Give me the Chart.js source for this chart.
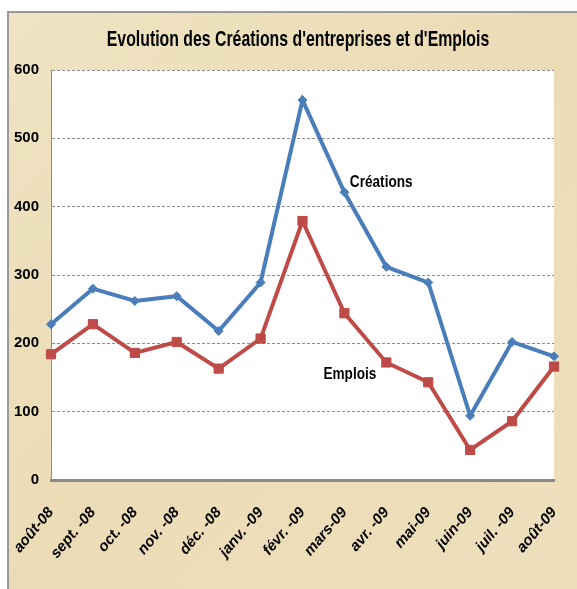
<!DOCTYPE html>
<html>
<head>
<meta charset="utf-8">
<script src="https://cdn.jsdelivr.net/npm/chart.js@4.4.1/dist/chart.umd.min.js"></script>
<style>
  html, body { margin: 0; padding: 0; background: #fff; }
</style>
</head>
<body>
<canvas id="myChart" width="577" height="589"></canvas>
<script>
// donnees
const mois = ['août-08', 'sept. -08', 'oct. -08', 'nov. -08', 'déc. -08', 'janv. -09', 'févr. -09',
  'mars-09', 'avr. -09', 'mai-09', 'juin-09', 'juil. -09', 'août-09']
const creations = [228, 280, 262, 269, 218, 289, 556, 421, 312, 289, 94, 202, 181]
const emplois = [184, 228, 186, 202, 163, 207, 379, 244, 172, 143, 44, 86, 166]
const yTicks = [0, 100, 200, 300, 400, 500, 600]
const titre = "Evolution des Créations d'entreprises et d'Emplois"

// etiquettes dans le graphique (index de categorie, valeur)
const noteCreations = { text: 'Créations', index: 7.13, value: 435 }
const noteEmplois = { text: 'Emplois', index: 6.5, value: 154 }

const police = "'Liberation Sans', Arial, sans-serif"
const bleu = '#4a7ebb'
const rouge = '#be4b48'

// texte un peu resserre, comme le Calibri du modele
function texteEtroit(ctx, txt, x, y, align, k) {
  ctx.save()
  ctx.translate(x, y)
  ctx.scale(k, 1)
  ctx.textAlign = align
  ctx.fillText(txt, 0, 0)
  ctx.restore()
}

const fond = {
  id: 'fond',
  beforeDraw(chart) {
    const ctx = chart.ctx
    const a = chart.chartArea
    ctx.save()
    ctx.fillStyle = '#ffffff'
    ctx.fillRect(0, 0, chart.width, chart.height)
    const g = ctx.createLinearGradient(0, 12, chart.width, chart.height)
    g.addColorStop(0, '#efe3c2')
    g.addColorStop(0.5, '#ecdcb6')
    g.addColorStop(1, '#eee0bd')
    ctx.fillStyle = g
    ctx.fillRect(8, 12, chart.width - 8, chart.height - 12)
    ctx.strokeStyle = '#999999'
    ctx.lineWidth = 2
    ctx.beginPath()
    ctx.moveTo(8, chart.height)
    ctx.lineTo(8, 12)
    ctx.lineTo(chart.width, 12)
    ctx.stroke()
    ctx.fillStyle = '#ffffff'
    ctx.fillRect(a.left, a.top, a.right - a.left, a.bottom - a.top)

    ctx.fillStyle = '#000'
    ctx.font = 'bold 22px ' + police
    ctx.textBaseline = 'middle'
    texteEtroit(ctx, titre, 298, 40, 'center', 0.72)
    ctx.restore()
  },
  afterDatasetsDraw(chart) {
    const ctx = chart.ctx
    const x = chart.scales.x
    const y = chart.scales.y
    ctx.save()
    ctx.fillStyle = '#000'
    ctx.font = 'bold 17px ' + police
    ctx.textBaseline = 'middle'
    for (const n of [noteCreations, noteEmplois]) {
      texteEtroit(ctx, n.text, x.getPixelForValue(n.index), y.getPixelForValue(n.value), 'left', 0.8)
    }
    ctx.restore()
  }
}

const ctx = document.getElementById('myChart')
const myChart = new Chart(ctx, {
  type: 'line',
  data: {
    labels: mois,
    datasets: [{
      label: 'Créations',
      data: creations,
      borderColor: bleu,
      backgroundColor: bleu,
      borderWidth: 4,
      pointStyle: 'rectRot',
      pointRadius: 4.5,
      pointBorderWidth: 1,
      tension: 0,
      clip: false
    }, {
      label: 'Emplois',
      data: emplois,
      borderColor: rouge,
      backgroundColor: rouge,
      borderWidth: 4,
      pointStyle: 'rect',
      pointRadius: 6.5,
      pointBorderWidth: 1,
      tension: 0,
      clip: false
    }]
  },
  options: {
    responsive: false,
    animation: false,
    layout: { padding: { top: 70, right: 23, left: 0, bottom: 0 } },
    plugins: {
      legend: { display: false },
      tooltip: { enabled: false }
    },
    scales: {
      x: {
        offset: false,
        afterFit: s => {
          s.height = 109
          s.paddingLeft = 0
          s.paddingRight = 0
        },
        grid: { display: false, drawTicks: false },
        border: { display: true, color: '#8a8a8a', width: 3 },
        ticks: {
          autoSkip: false,
          minRotation: 50,
          maxRotation: 50,
          padding: 24,
          color: '#000',
          font: { family: police, size: 15, weight: 'bold', style: 'italic' }
        }
      },
      y: {
        min: 0,
        max: 600,
        afterFit: s => { s.width = 51 },
        afterBuildTicks: s => { s.ticks = yTicks.map(v => ({ value: v })) },
        grid: { color: '#8c8c8c', lineWidth: 1, drawTicks: false },
        border: { display: true, color: '#8c8c8c', width: 1, dash: [3, 2] },
        ticks: {
          padding: 12,
          color: '#000',
          font: { family: police, size: 15, weight: 'bold' }
        }
      }
    }
  },
  plugins: [fond]
})
</script>
</body>
</html>
